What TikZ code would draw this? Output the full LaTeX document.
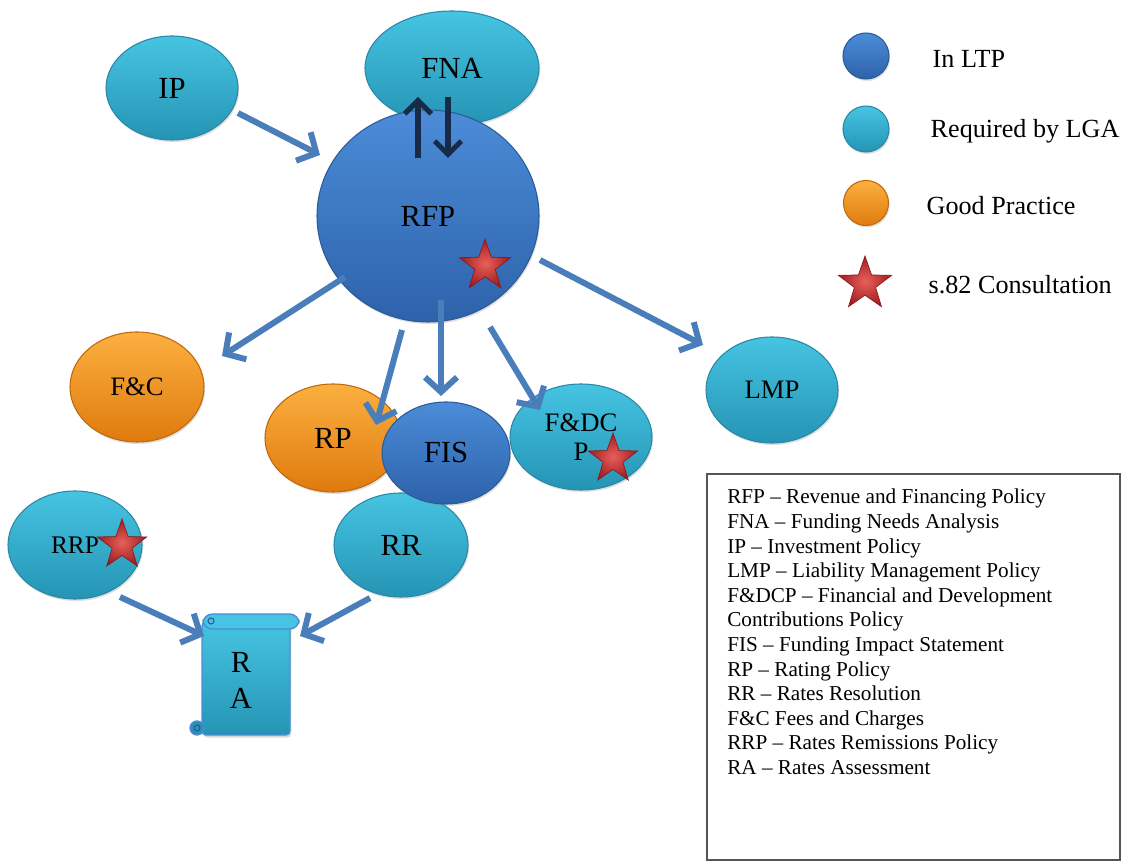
\documentclass[tikz,border=0pt]{standalone}
\usepackage{fontspec}
\setmainfont{Liberation Serif}
\usetikzlibrary{shapes.geometric,arrows.meta,shadows}
\definecolor{cyT}{HTML}{46C4E2}
\definecolor{cyB}{HTML}{2594B4}
\definecolor{cyE}{HTML}{2A88A6}
\definecolor{dbT}{HTML}{4C8CD8}
\definecolor{dbB}{HTML}{2D62AA}
\definecolor{dbE}{HTML}{2B5B98}
\definecolor{orT}{HTML}{FBB040}
\definecolor{orB}{HTML}{E07A0E}
\definecolor{orE}{HTML}{C0690A}
\definecolor{arrC}{HTML}{4A7EBB}
\definecolor{navyC}{HTML}{172B48}
\definecolor{stT}{HTML}{E8605A}
\definecolor{stB}{HTML}{A01C20}
\definecolor{stE}{HTML}{8A1A1C}
\definecolor{boxE}{HTML}{555555}
\begin{document}
\begin{tikzpicture}[x=0.75pt,y=-0.75pt,
  ball/.style={ellipse, inner sep=0pt, line width=0.8pt,
    drop shadow={shadow xshift=0.8pt,shadow yshift=-1.5pt,opacity=0.25}},
  cyanball/.style={ball, draw=cyE, top color=cyT, bottom color=cyB},
  blueball/.style={ball, draw=dbE, top color=dbT, bottom color=dbB},
  orangeball/.style={ball, draw=orE, top color=orT, bottom color=orB},
  rxy/.style 2 args={minimum width={#1*1.5pt}, minimum height={#2*1.5pt}},
  big/.style={font=\fontsize{23}{27}\selectfont},
  mid/.style={font=\fontsize{20}{22}\selectfont},
  legtxt/.style={anchor=west, font=\fontsize{19.6}{24}\selectfont},
  arr/.style={draw=arrC, line width=4.5pt, -{Straight Barb[length=11pt,width=24pt]}},
  navyarr/.style={draw=navyC, line width=3.8pt, -{Straight Barb[length=10pt,width=20pt]}},
  redstar/.style={star, star points=5, star point ratio=2.5, inner sep=0pt,
    minimum size={#1*1.5pt}, draw=stE, line width=0.5pt, shading=radial,
    inner color=stT, outer color=stB}
]
\useasboundingbox (0,0) rectangle (1122,862);

% ---- nodes ----
\node[cyanball, rxy={87}{57}, big] (FNA) at (452,68) {FNA};
\node[blueball, rxy={111}{106}, big] (RFP) at (428,216) {RFP};
\node[redstar=27] (s1) at (485,266) {};
\node[cyanball, rxy={66}{52}, big] (IP) at (172,88) {IP};
\node[orangeball, rxy={67}{55}, mid] (FC) at (137,387) {F\&C};
\node[cyanball, rxy={66}{53}, mid] (LMP) at (772,390) {LMP};
\node[cyanball, rxy={67}{52}, big] (RR) at (401,545) {RR};
\node[orangeball, rxy={68}{54}, big] (RP) at (333,438) {RP};
\node[cyanball, rxy={71}{53}, mid, align=center] (FDCP) at (581,437) {F\&DC\\P};
\node[blueball, rxy={64}{51}, big] (FIS) at (446,453) {FIS};
\node[redstar=26] (s2) at (613,459) {};
\node[cyanball, rxy={67}{54}, font=\fontsize{19}{22}\selectfont] (RRP) at (75,545) {RRP};
\node[redstar=26] (s3) at (122,545) {};

% ---- scroll RA ----
\node[minimum width={88*0.75pt}, minimum height={113*0.75pt}, inner sep=0pt] (RAbody) at (246,678) {};
\path[draw=dbT, line width=1pt, top color=cyT, bottom color=cyB, rounded corners=3pt,
  drop shadow={shadow xshift=1pt,shadow yshift=-2pt,opacity=0.3}]
  (202,622) rectangle (290,735);
\path[draw=dbT, line width=1pt, fill=cyB] (197,728) circle [radius=7];
\draw[dbE, line width=0.8pt] (197,728) circle [radius=3];
\path[draw=dbT, line width=1pt, fill=cyT, rounded corners=7pt] (203,614) rectangle (299,629);
\draw[dbE, line width=0.8pt] (211,621) circle [radius=3];
\node[big, align=center] (RA) at (241,680) {R\\A};

% ---- connectors ----
\coordinate (ipS) at (238,113);  \coordinate (ipE) at (320,155);
\coordinate (fcS) at (345,277);  \coordinate (fcE) at (222,356);
\coordinate (rpS) at (402,330);  \coordinate (rpE) at (376,425);
\coordinate (fisS) at (441,300); \coordinate (fisE) at (441,396);
\coordinate (fdS) at (490,327);  \coordinate (fdE) at (540,410);
\coordinate (lmS) at (540,260);  \coordinate (lmE) at (703,345);
\coordinate (rrpS) at (120,597); \coordinate (rrpE) at (204,636);
\coordinate (rrS) at (370,598);  \coordinate (rrE) at (300,636);
\coordinate (upS) at (418,158);  \coordinate (upE) at (418,97);
\coordinate (dnS) at (448,97);   \coordinate (dnE) at (448,158);

\draw[arr] (ipS) -- (ipE);
\draw[arr] (fcS) -- (fcE);
\draw[arr] (rpS) -- (rpE);
\draw[arr] (fisS) -- (fisE);
\draw[arr] (fdS) -- (fdE);
\draw[arr] (lmS) -- (lmE);
\draw[arr] (rrpS) -- (rrpE);
\draw[arr] (rrS) -- (rrE);
\draw[navyarr] (upS) -- (upE);
\draw[navyarr] (dnS) -- (dnE);

% ---- legend ----
\node[circle, blueball, minimum size={46*0.75pt}] (L1) at (866,56) {};
\node[circle, cyanball, minimum size={46*0.75pt}] (L2) at (866,129) {};
\node[circle, orangeball, minimum size={45*0.75pt}] (L3) at (866,203) {};
\node[redstar=28] (L4) at (865,284) {};
\node[legtxt] (t1) at (928,59) {In LTP};
\node[legtxt] (t2) at (926,131) {Required by LGA};
\node[legtxt] (t3) at (922,206) {Good Practice};
\node[legtxt] (t4) at (924,285) {s.82 Consultation};

% ---- key box ----
\node[draw=boxE, line width=0.9pt, minimum width={413*0.75pt}, minimum height={386*0.75pt}, inner sep=0pt] (key) at (913.5,667) {};
\node[anchor=north west, align=left, inner sep=0pt, font=\fontsize{15.9}{18.45}\selectfont] (keytxt) at (727,489) {%
RFP -- Revenue and Financing Policy\\
FNA -- Funding Needs Analysis\\
IP -- Investment Policy\\
LMP -- Liability Management Policy\\
F\&DCP -- Financial and Development\\
Contributions Policy\\
FIS -- Funding Impact Statement\\
RP -- Rating Policy\\
RR -- Rates Resolution\\
F\&C Fees and Charges\\
RRP -- Rates Remissions Policy\\
RA -- Rates Assessment};
\end{tikzpicture}
\end{document}
